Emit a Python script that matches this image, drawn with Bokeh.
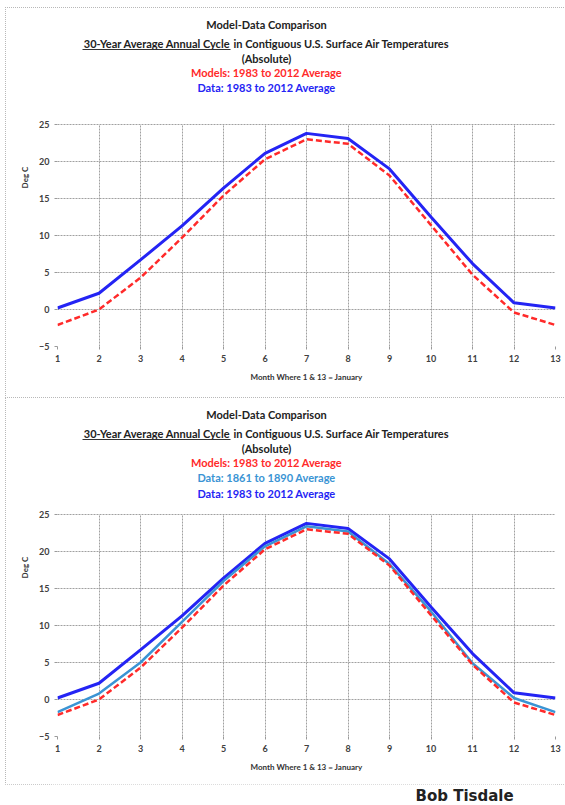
from bokeh.plotting import figure
from bokeh.models import Label, BoxAnnotation, FixedTicker, Range1d
from bokeh.layouts import column
from bokeh.embed import file_html
from bokeh.resources import INLINE

# ---- data ----
months = [1, 2, 3, 4, 5, 6, 7, 8, 9, 10, 11, 12, 13]
y_ticks = [-5, 0, 5, 10, 15, 20, 25]
models_1983_2012 = [-2.1, 0.0, 4.3, 9.7, 15.4, 20.3, 23.0, 22.4, 18.1, 11.4, 4.7, -0.4, -2.1]
data_1983_2012 = [0.2, 2.2, 6.7, 11.3, 16.4, 21.1, 23.8, 23.1, 19.0, 12.5, 6.2, 0.9, 0.2]
data_1861_1890 = [-1.7, 0.8, 5.0, 10.5, 16.0, 20.7, 23.4, 22.7, 18.3, 11.9, 4.9, 0.2, -1.7]

title_1 = "Model-Data Comparison"
title_2a = "30-Year Average Annual Cycle"
title_2b = "in Contiguous U.S. Surface Air Temperatures"
title_3 = "(Absolute)"
lab_models = "Models: 1983 to 2012 Average"
lab_old = "Data: 1861 to 1890 Average"
lab_new = "Data: 1983 to 2012 Average"
x_title = "Month Where 1 & 13 = January"
y_title = "Deg C"
author = "Bob Tisdale"

RED = "#ff2a2a"
BLUE = "#2424f4"
STEEL = "#3a94d4"
FONT = "Lato"
W = 559
FL, FB, PLOT_TOP = 51, 338, 116  # frame left, frame bottom, y=25 position (figure px)
BORDER = {"outline": "1px dotted #b8b8b8"}


def add_label(p, text, fx, fy, color="#222222", size="11px", align="center", font=FONT, style="bold"):
    # screen units are relative to the frame's bottom-left corner (y up)
    p.add_layout(Label(x=fx - FL, y=FB - fy, x_units="screen", y_units="screen", text=text,
                       text_align=align, text_baseline="middle", text_color=color,
                       text_font_size=size, text_font=font, text_font_style=style))


def add_box(p, fl, fr, ft, fb, **kw):
    p.add_layout(BoxAnnotation(left=fl - FL, right=fr - FL, top=FB - ft, bottom=FB - fb,
                               left_units="screen", right_units="screen",
                               top_units="screen", bottom_units="screen", **kw))


def make_panel(h, subs, series, margin):
    lo, hi = y_ticks[0], y_ticks[-1]
    y_top = hi + PLOT_TOP * (hi - lo) / (FB - PLOT_TOP)  # frame extends up over the titles
    p = figure(width=W, height=h, x_range=Range1d(months[0], months[-1]),
               y_range=Range1d(lo, y_top),
               output_backend="svg", toolbar_location=None,
               min_border_left=FL, min_border_right=10, min_border_top=0,
               min_border_bottom=h - FB, margin=margin, styles=BORDER)
    p.outline_line_color = None
    p.background_fill_color = "white"
    p.border_fill_color = "white"
    p.xaxis.ticker = FixedTicker(ticks=months)
    p.yaxis.ticker = FixedTicker(ticks=y_ticks)
    p.yaxis.bounds = (lo, hi)
    for ax in (p.xaxis[0], p.yaxis[0]):
        ax.axis_line_color = None
        ax.major_tick_line_color = "#9a9a9a"
        ax.major_tick_in = 0
        ax.major_tick_out = 3
        ax.minor_tick_line_color = None
        ax.major_label_text_font = FONT
        ax.major_label_text_font_size = "9px"
        ax.major_label_text_font_style = "bold"
        ax.major_label_text_color = "#404040"
        ax.major_label_standoff = 5
        ax.axis_label_text_font = FONT
        ax.axis_label_text_font_size = "8px"
        ax.axis_label_text_font_style = "bold"
        ax.axis_label_text_color = "#333333"
    p.xaxis.axis_label = x_title
    p.xaxis.axis_label_standoff = 7
    p.yaxis.axis_label = y_title
    p.yaxis.axis_label_standoff = 6
    for g in (p.xgrid[0], p.ygrid[0]):
        g.grid_line_color = "#a0a0a0"
        g.grid_line_width = 1
        g.grid_line_dash = "2 1"
    p.xgrid[0].cross_bounds = (lo, hi)

    for ys, color, dash, lw in series:
        p.line(months, ys, line_color=color, line_width=lw, line_dash=dash)

    add_label(p, title_1, 260, 16)
    add_label(p, title_2a, 224, 34.5, align="right")
    add_label(p, title_2b, 227, 34.5, align="left")
    add_box(p, 76, 224, 40.5, 41.5, fill_color="#333333", fill_alpha=1, line_color=None)
    add_label(p, title_3, 260, 49.5)
    for i, (t, c) in enumerate(subs):
        add_label(p, t, 260, 64 + 15.3 * i, color=c)
    return p


p1 = make_panel(389, [(lab_models, RED), (lab_new, BLUE)],
                [(data_1983_2012, BLUE, "solid", 3), (models_1983_2012, RED, "6 3", 2.5)],
                (8, 0, 0, 6))
p2 = make_panel(386, [(lab_models, RED), (lab_old, STEEL), (lab_new, BLUE)],
                [(data_1983_2012, BLUE, "solid", 3), (data_1861_1890, STEEL, "solid", 2.5),
                 (models_1983_2012, RED, "6 3", 2.5)],
                (1, 0, 0, 6))

# signature strip (its frame is aligned with the panels' frames by the column layout)
p3 = figure(width=565, height=21, x_range=Range1d(0, 1), y_range=Range1d(0, 1),
            output_backend="svg", toolbar_location=None,
            min_border_left=0, min_border_right=0, min_border_top=0, min_border_bottom=0,
            x_axis_location=None, y_axis_location=None)
p3.outline_line_color = None
p3.grid.visible = False
p3.add_layout(Label(x=364, y=10, x_units="screen", y_units="screen", text=author,
                    text_align="left", text_baseline="middle", text_color="#222222",
                    text_font_size="15px", text_font="DejaVu Sans", text_font_style="bold"))

layout = column(p1, p2, p3, spacing=0)
open("out.html", "w").write(file_html(layout, INLINE))
